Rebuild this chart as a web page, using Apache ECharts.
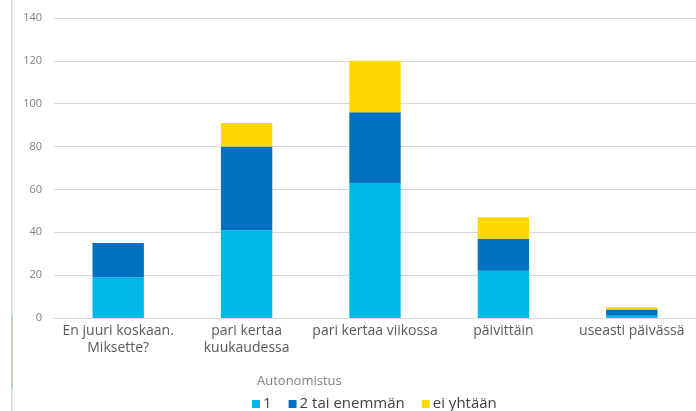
<!DOCTYPE html>
<html>
<head>
<meta charset="utf-8">
<script src="https://cdn.jsdelivr.net/npm/echarts@6/dist/echarts.min.js"></script>
<style>
  html, body { margin: 0; padding: 0; background: #fff; }
  #chart { width: 696px; height: 411px; }
</style>
</head>
<body>
<div id="chart"></div>
<script>
// Categories: how often the respondent does it
const categories = [
  'En juuri koskaan.\nMiksette?',
  'pari kertaa\nkuukaudessa',
  'pari kertaa viikossa',
  'päivittäin',
  'useasti päivässä'
];

// Car ownership groups (stacked)
const seriesNames = ['1', '2 tai enemmän', 'ei yhtään'];
const valuesOne = [19, 41, 63, 22, 1];
const valuesTwoOrMore = [16, 39, 33, 15, 3];
const valuesNone = [0, 11, 24, 10, 1];

// Y axis ticks
const yMin = 0;
const yMax = 140;
const yStep = 20;

const colors = ['#00b8e8', '#0070c0', '#ffd700'];
const font = 'Open Sans, Liberation Sans, sans-serif';

const chart = echarts.init(document.getElementById('chart'));

const seriesData = [valuesOne, valuesTwoOrMore, valuesNone];

chart.setOption({
  animation: false,
  textStyle: { fontFamily: font },
  grid: { left: 54, right: -10, top: 18, bottom: 93, containLabel: false },
  xAxis: {
    type: 'category',
    data: categories,
    axisLine: { lineStyle: { color: '#d9d9d9', width: 1 } },
    axisTick: { show: false },
    axisLabel: {
      color: '#595959',
      fontSize: 14,
      fontFamily: font,
      lineHeight: 17,
      margin: 5,
      interval: 0
    }
  },
  yAxis: {
    type: 'value',
    min: yMin,
    max: yMax,
    interval: yStep,
    axisLine: { show: false },
    axisTick: { show: false },
    axisLabel: { color: '#7f7f7f', fontSize: 11, fontFamily: font, margin: 12 },
    splitLine: { lineStyle: { color: '#d9d9d9', width: 1 } }
  },
  legend: {
    data: seriesNames,
    left: 252,
    top: 395,
    padding: 0,
    itemWidth: 8,
    itemHeight: 8,
    itemGap: 17,
    icon: 'rect',
    textStyle: { color: '#404040', fontSize: 15, lineHeight: 18, fontFamily: font, padding: [0, 0, 0, -2] }
  },
  graphic: [
    {
      type: 'text',
      left: 257,
      top: 375,
      style: { text: 'Autonomistus', fill: '#7f7f7f', fontSize: 13, fontFamily: font }
    },
    {
      type: 'rect',
      shape: { x: 11, y: 0, width: 1.5, height: 411 },
      style: { fill: '#d6d6d6' }
    },
    {
      type: 'rect',
      shape: { x: 11.5, y: 315, width: 1, height: 73 },
      style: { fill: '#8fd19e' }
    }
  ],
  series: seriesNames.map((name, i) => ({
    name: name,
    type: 'bar',
    stack: 'total',
    barWidth: '40%',
    data: seriesData[i],
    itemStyle: { color: colors[i] }
  }))
});
</script>
</body>
</html>
